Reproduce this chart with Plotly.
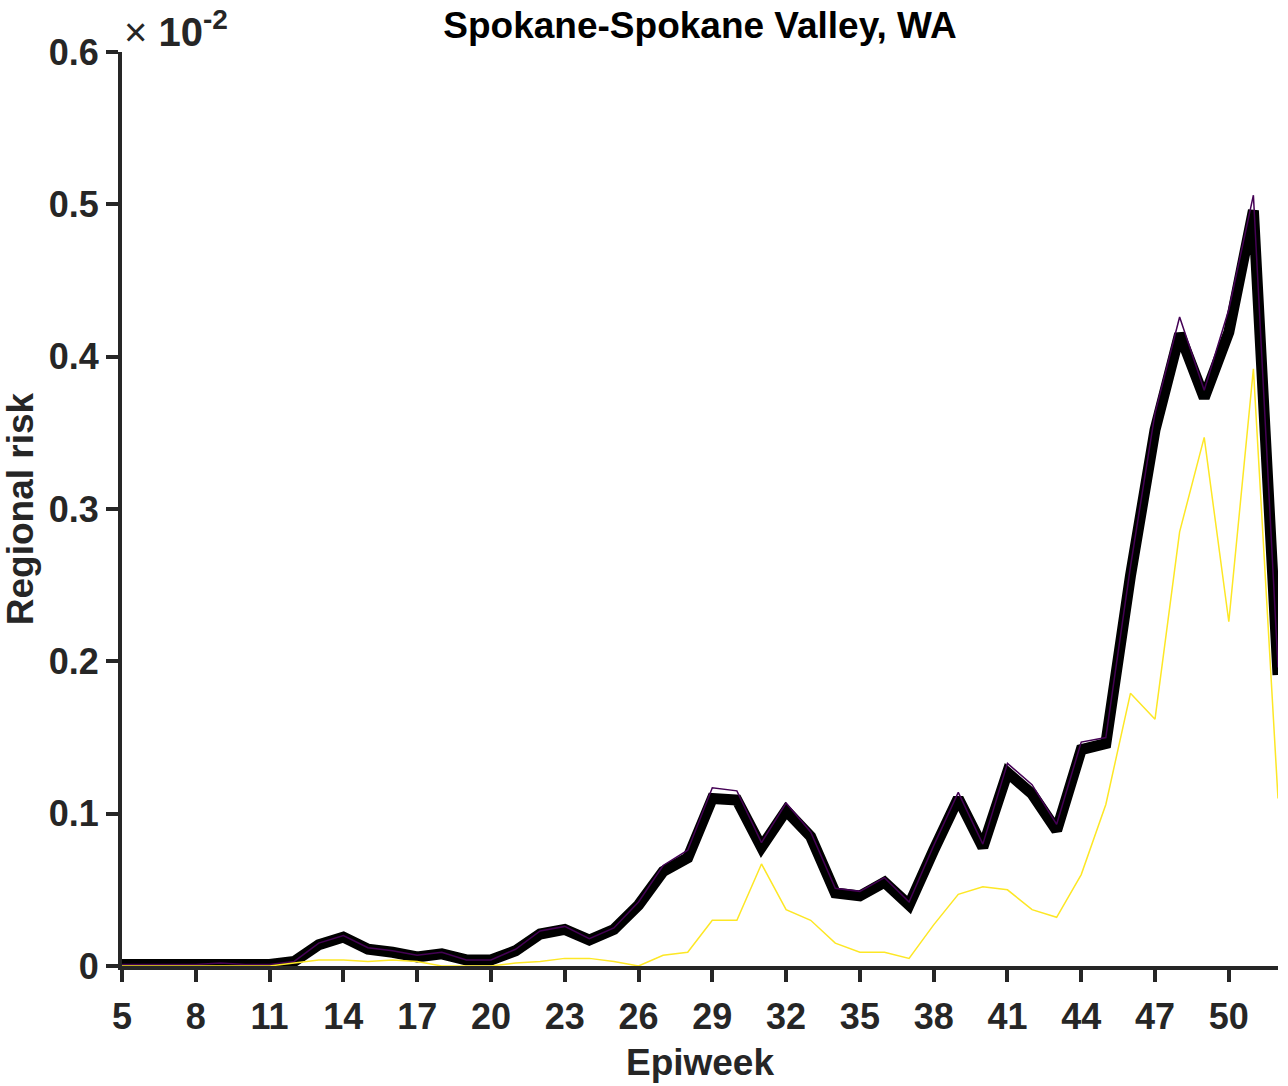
import plotly.graph_objects as go

# Epiweeks shown on the horizontal axis
weeks = list(range(5, 53))

# Regional risk, in units of 1e-2
risk_mean = [0.001, 0.001, 0.001, 0.001, 0.002, 0.001, 0.001, 0.003,
             0.014, 0.019, 0.011, 0.009, 0.006, 0.008, 0.004, 0.004,
             0.010, 0.021, 0.024, 0.017, 0.024, 0.040, 0.062, 0.071,
             0.110, 0.109, 0.078, 0.102, 0.085, 0.048, 0.046, 0.055,
             0.040, 0.076, 0.110, 0.078, 0.127, 0.113, 0.089, 0.142,
             0.146, 0.256, 0.352, 0.415, 0.373, 0.416, 0.496, 0.191]

risk_upper = [0.001, 0.001, 0.001, 0.001, 0.002, 0.001, 0.001, 0.003,
              0.015, 0.020, 0.012, 0.010, 0.007, 0.009, 0.004, 0.004,
              0.011, 0.023, 0.026, 0.018, 0.025, 0.042, 0.066, 0.076,
              0.117, 0.115, 0.081, 0.107, 0.088, 0.051, 0.049, 0.058,
              0.042, 0.079, 0.114, 0.080, 0.133, 0.119, 0.093, 0.147,
              0.150, 0.262, 0.363, 0.426, 0.378, 0.431, 0.506, 0.196]

risk_lower = [0.000, 0.000, 0.000, 0.000, 0.000, 0.000, 0.000, 0.002,
              0.004, 0.004, 0.003, 0.004, 0.003, 0.000, 0.000, 0.000,
              0.002, 0.003, 0.005, 0.005, 0.003, 0.000, 0.007, 0.009,
              0.030, 0.030, 0.067, 0.037, 0.030, 0.015, 0.009, 0.009,
              0.005, 0.027, 0.047, 0.052, 0.050, 0.037, 0.032, 0.060,
              0.106, 0.179, 0.162, 0.285, 0.347, 0.226, 0.392, 0.110]

x_ticks = list(range(5, 51, 3))
y_ticks = [0, 0.1, 0.2, 0.3, 0.4, 0.5, 0.6]
y_ticktext = ["0", "0.1", "0.2", "0.3", "0.4", "0.5", "0.6"]

AXIS = "#262626"
FONT = "Liberation Sans, Arial, sans-serif"

fig = go.Figure()
fig.add_trace(go.Scatter(x=weeks, y=risk_mean, mode="lines",
                         line=dict(color="black", width=11),
                         showlegend=False, hoverinfo="skip"))
fig.add_trace(go.Scatter(x=weeks, y=risk_upper, mode="lines",
                         line=dict(color="#440154", width=1.5),
                         showlegend=False, hoverinfo="skip"))
fig.add_trace(go.Scatter(x=weeks, y=risk_lower, mode="lines",
                         line=dict(color="#FDE725", width=1.5),
                         showlegend=False, hoverinfo="skip"))

fig.update_layout(
    width=1288, height=1086,
    margin=dict(l=122, r=10, t=52, b=120),
    paper_bgcolor="white", plot_bgcolor="white",
    font=dict(family=FONT, size=36, color=AXIS, weight="bold"),
    title=dict(text="Spokane-Spokane Valley, WA", x=0.5, xanchor="center",
               xref="paper", y=0.977, yanchor="middle",
               font=dict(family=FONT, size=37, color="black", weight="bold")),
    xaxis=dict(range=[5, 52], tickvals=x_ticks, ticks="outside", ticklen=12,
               tickwidth=4, tickcolor=AXIS, showline=True, linewidth=4,
               linecolor=AXIS, showgrid=False, zeroline=False,
               ticklabelstandoff=4,
               title=dict(text="Epiweek", standoff=14,
                          font=dict(size=37, color=AXIS, weight="bold"))),
    yaxis=dict(range=[0, 0.6], tickvals=y_ticks, ticktext=y_ticktext,
               ticks="outside", ticklen=12, tickwidth=4, tickcolor=AXIS,
               showline=True, linewidth=4, linecolor=AXIS, showgrid=False,
               zeroline=False,
               title=dict(text="Regional risk", standoff=14,
                          font=dict(size=37, color=AXIS, weight="bold"))),
    annotations=[dict(text="× <b>10<sup>-2</sup></b>", xref="paper", yref="paper",
                      x=0, y=1, xanchor="left", yanchor="bottom", showarrow=False,
                      yshift=-4,
                      font=dict(family=FONT, size=40, color=AXIS, weight="normal"))],
)

fig.write_html("out.html")
